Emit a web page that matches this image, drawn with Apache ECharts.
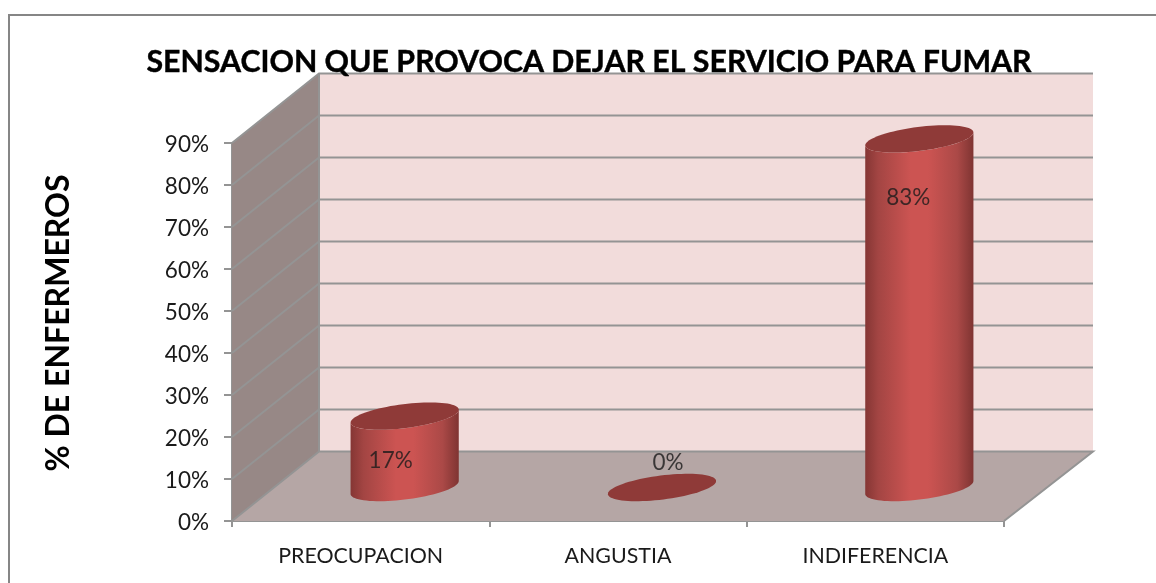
<!DOCTYPE html>
<html><head><meta charset="utf-8">
<style>html,body{margin:0;padding:0;background:#fff}#c{width:1156px;height:583px}</style>
<script src="https://cdn.jsdelivr.net/npm/echarts@6/dist/echarts.min.js"></script>
</head><body><div id="c"></div>
<script>
const categories = ['PREOCUPACION', 'ANGUSTIA', 'INDIFERENCIA'];
const values = [17, 0, 83];
const valueLabels = ['17%', '0%', '83%'];
const yTicks = [0, 10, 20, 30, 40, 50, 60, 70, 80, 90];
const titleText = 'SENSACION QUE PROVOCA DEJAR EL SERVICIO PARA FUMAR';
const yAxisTitle = '% DE ENFERMEROS';

const DEPTH_X = 87, DEPTH_XR = 89, DEPTH_Y = -69.5;
const RX = 54.5, RY = 12, TILT = 0.125;
const GRID_COL = '#949494';

function ellipsePts(cx, cy, t0, t1, n) {
  const pts = [], c = Math.cos(TILT), s = Math.sin(TILT);
  for (let i = 0; i <= n; i++) {
    const t = t0 + (t1 - t0) * i / n;
    const ex = RX * Math.cos(t), ey = RY * Math.sin(t);
    pts.push([cx + ex * c + ey * s, cy - ex * s + ey * c]);
  }
  return pts;
}

function renderWalls(params, api) {
  const rect = params.coordSys;
  const x0 = rect.x, x1 = rect.x + rect.width;
  const yAt = v => api.coord([0, v])[1];
  const y0 = yAt(0), yTop = yAt(yTicks[yTicks.length - 1]);
  const bx0 = x0 + DEPTH_X, bx1 = x1 + DEPTH_XR;
  const children = [
    {type:'polygon', shape:{points:[[x0,yTop],[bx0,yTop+DEPTH_Y],[bx0,y0+DEPTH_Y],[x0,y0]]}, style:{fill:'#978886'}},
    {type:'polygon', shape:{points:[[bx0,yTop+DEPTH_Y],[bx1,yTop+DEPTH_Y],[bx1,y0+DEPTH_Y],[bx0,y0+DEPTH_Y]]}, style:{fill:'#f2dcdb'}},
    {type:'polygon', shape:{points:[[x0,y0],[bx0,y0+DEPTH_Y],[bx1,y0+DEPTH_Y],[x1,y0]]}, style:{fill:'#b5a6a5'}}
  ];
  const line = {stroke:GRID_COL, lineWidth:2};
  yTicks.forEach(v => {
    const y = yAt(v);
    const pts = [[x0,y],[bx0,y+DEPTH_Y],[bx1,y+DEPTH_Y]];
    if (v === 0) pts.push([x1,y]);
    children.push({type:'polyline', shape:{points:pts}, style:Object.assign({fill:null},line)});
  });
  children.push({type:'line', shape:{x1:bx0,y1:yTop+DEPTH_Y,x2:bx0,y2:y0+DEPTH_Y}, style:line});
  return {type:'group', children};
}

function renderCyl(params, api) {
  const idx = api.value(0), val = api.value(1);
  const b = api.coord([idx, 0]), t = api.coord([idx, val]);
  const cx = b[0] + 44 , by = b[1] - 33.5, ty = t[1] - 33.5;
  const tan = Math.atan2(RY * Math.sin(TILT), RX * Math.cos(TILT));
  const children = [];
  if (val > 0) {
    const body = ellipsePts(cx, by, tan, tan + Math.PI, 40).concat(ellipsePts(cx, ty, tan + Math.PI, tan, 40));
    children.push({type:'polygon', shape:{points:body}, style:{fill:new echarts.graphic.LinearGradient(0,0,1,0,[
      {offset:0,color:'#853634'},{offset:0.12,color:'#a34543'},{offset:0.42,color:'#cc5452'},{offset:0.58,color:'#cc5452'},{offset:0.85,color:'#ab4947'},{offset:1,color:'#7f3432'}
    ])}});
  }
  children.push({type:'polygon', shape:{points:ellipsePts(cx, ty, 0, Math.PI*2, 80)}, style:{fill:'#8f3a38'}});
  return {type:'group', children};
}

const chart = echarts.init(document.getElementById('c'), null, {renderer:'canvas'});
chart.setOption({
  animation:false,
  backgroundColor:'#fff',
  title:{text:titleText, left:584, top:42, textAlign:'center', textStyle:{fontFamily:'Lato', fontWeight:'bold', fontSize:30.3, color:'#000', textBorderColor:'#000', textBorderWidth:0.4}},
  grid:{left:232, right:152, top:143, bottom:62},
  graphic:[{type:'rect', z:-1, shape:{x:9,y:15,width:1300,height:700}, style:{fill:'none',stroke:'#868686',lineWidth:2}}],
  xAxis:{type:'category', data:categories, boundaryGap:true,
    axisLine:{show:true,lineStyle:{color:GRID_COL,width:2}}, axisTick:{show:true,length:6,alignWithLabel:false,lineStyle:{color:GRID_COL,width:2}},
    axisLabel:{color:'#1a1a1a',fontFamily:'Lato',fontSize:21.4,margin:25}},
  yAxis:{type:'value', min:0, max:90, interval:10,
    name:yAxisTitle, nameLocation:'middle', nameGap:157, nameRotate:90,
    nameTextStyle:{fontFamily:'Lato',fontWeight:'bold',fontSize:32,color:'#000',padding:[0,0,0,18]},
    axisLine:{show:true,lineStyle:{color:GRID_COL,width:2}}, axisTick:{show:true,length:8,lineStyle:{color:GRID_COL,width:2}},
    splitLine:{show:false},
    axisLabel:{formatter:'{a|{value}%}',margin:23,
      rich:{a:{color:'#1a1a1a',fontFamily:'Lato',fontSize:22.5,padding:[4,0,0,0]}}}},
  series:[
    {type:'custom', silent:true, z:1, renderItem:renderWalls, data:[[0,0]], encode:{x:0,y:1}},
    {type:'custom', silent:true, z:2, renderItem:renderCyl, data:categories.map((c,i)=>[i,values[i]]), encode:{x:0,y:1}},
    {type:'scatter', silent:true, z:3, symbolSize:0, data:categories.map((c,i)=>[i,values[i]]),
      label:{show:true, position:'inside', fontFamily:'Lato', fontSize:22.5, color:'#1a1a1a',
        formatter:p=>valueLabels[p.dataIndex]},
      labelLayout:function(p){
        const off={0:[30,11],1:[50,-58],2:[33,25]}[p.dataIndex];
        return {dx:off[0],dy:off[1]};
      }}
  ]
});
</script></body></html>
